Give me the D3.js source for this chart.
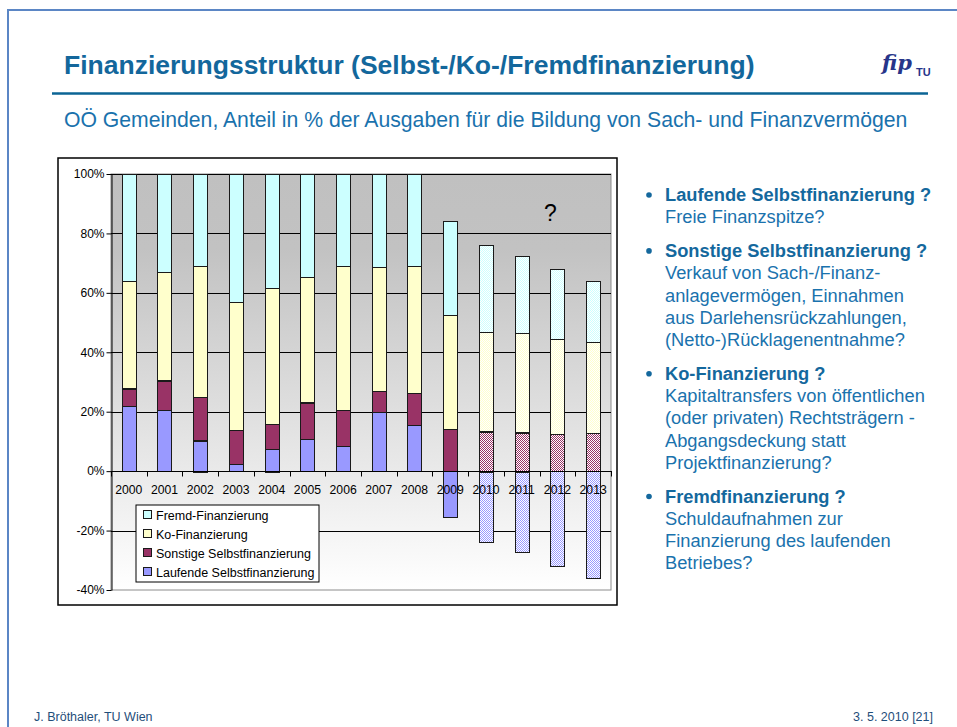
<!DOCTYPE html>
<html>
<head>
<meta charset="utf-8">
<script src="https://cdn.jsdelivr.net/npm/d3@7"></script>
<style>
  html, body { margin: 0; padding: 0; background: #fff; }
  svg { display: block; font-family: "Liberation Sans", Arial, sans-serif; }
</style>
</head>
<body>
<svg id="slide" width="957" height="727"></svg>
<script>
// chart data
const years = ["2000","2001","2002","2003","2004","2005","2006","2007","2008","2009","2010","2011","2012","2013"];
const laufende = [22.1, 20.6, 10.3, 2.6, 7.6, 11.1, 8.4, 19.8, 15.4, -15.5, -23.8, -27.3, -32.0, -35.9];
const sonstige = [5.7, 9.9, 14.5, 11.3, 8.3, 12.0, 12.2, 7.1, 10.9, 14.3, 13.3, 13.0, 12.7, 12.7];
const koFin = [36.1, 36.4, 44.1, 43.1, 45.7, 42.2, 48.5, 41.7, 42.6, 38.4, 33.7, 33.4, 31.9, 30.7];
const fremd = [36.1, 33.1, 31.1, 43.0, 38.4, 34.7, 30.9, 31.4, 31.1, 31.6, 29.2, 26.0, 23.4, 20.5];
const projectedYears = ["2010","2011","2012","2013"];
const yTicks = [-40, -20, 0, 20, 40, 60, 80, 100];

const seriesKeys = ["laufende", "sonstige", "ko", "fremd"];
const seriesNames = {
  fremd: "Fremd-Finanzierung",
  ko: "Ko-Finanzierung",
  sonstige: "Sonstige Selbstfinanzierung",
  laufende: "Laufende Selbstfinanzierung"
};
const seriesColors = { laufende: "#9999ff", sonstige: "#993366", ko: "#ffffcc", fremd: "#ccffff" };

const bullets = [
  { head: "Laufende Selbstfinanzierung ?", lines: ["Freie Finanzspitze?"] },
  { head: "Sonstige Selbstfinanzierung ?", lines: ["Verkauf von Sach-/Finanz-", "anlagevermögen, Einnahmen", "aus Darlehensrückzahlungen,", "(Netto-)Rücklagenentnahme?"] },
  { head: "Ko-Finanzierung ?", lines: ["Kapitaltransfers von öffentlichen", "(oder privaten) Rechtsträgern -", "Abgangsdeckung statt", "Projektfinanzierung?"] },
  { head: "Fremdfinanzierung ?", lines: ["Schuldaufnahmen zur", "Finanzierung des laufenden", "Betriebes?"] }
];

const svg = d3.select("#slide");
const defs = svg.append("defs");

// slide frame
svg.append("path")
  .attr("d", "M8,727 V10 H957")
  .attr("fill", "none")
  .attr("stroke", "#5b86c5")
  .attr("stroke-width", 2);

// title + rule
svg.append("text")
  .attr("x", 64).attr("y", 74)
  .style("font-size", "26.5px").style("font-weight", "bold")
  .style("fill", "#13679c")
  .text("Finanzierungsstruktur (Selbst-/Ko-/Fremdfinanzierung)");

svg.append("line")
  .attr("x1", 52).attr("x2", 928).attr("y1", 93.5).attr("y2", 93.5)
  .attr("stroke", "#0b6495").attr("stroke-width", 2.5);

svg.append("text")
  .attr("x", 64).attr("y", 127)
  .style("font-size", "21.2px")
  .style("fill", "#1a72ad")
  .text("OÖ Gemeinden, Anteil in % der Ausgaben für die Bildung von Sach- und Finanzvermögen");

// logo (rough)
const logo = svg.append("g").attr("transform", "translate(882,70)");
logo.append("text")
  .style("font-family", "'DejaVu Serif', serif").style("font-style", "italic").style("font-weight", "bold")
  .style("font-size", "21px").style("fill", "#27358a")
  .attr("x", 0).attr("y", 0).text("fip");
logo.append("text")
  .style("font-size", "11px").style("font-weight", "bold").style("fill", "#27358a")
  .attr("x", 34).attr("y", 6).text("TU");

// chart box
svg.append("rect")
  .attr("x", 58).attr("y", 158).attr("width", 559).attr("height", 447)
  .attr("fill", "#fff").attr("stroke", "#000").attr("stroke-width", 1.5);

const plot = { left: 111, right: 611, top: 174, bottom: 590 };

const x = d3.scaleBand()
  .domain(years)
  .range([plot.left, plot.right])
  .paddingInner(0.6)
  .paddingOuter(0.3);

const y = d3.scaleLinear()
  .domain([-40, 100])
  .range([plot.bottom, plot.top]);

// plot background gradient
const grad = defs.append("linearGradient")
  .attr("id", "bg").attr("x1", 0).attr("y1", 0).attr("x2", 0).attr("y2", 1);
grad.append("stop").attr("offset", "0").attr("stop-color", "#c0c0c0");
grad.append("stop").attr("offset", "0.18").attr("stop-color", "#c2c2c2");
grad.append("stop").attr("offset", "1").attr("stop-color", "#ffffff");

svg.append("rect")
  .attr("x", plot.left).attr("y", plot.top)
  .attr("width", plot.right - plot.left).attr("height", plot.bottom - plot.top)
  .attr("fill", "url(#bg)")
  .attr("stroke", "#8c8c8c").attr("stroke-width", 1);

// grid lines
svg.append("g")
  .selectAll("line")
  .data(yTicks.filter(d => d !== 0 && d !== -40))
  .join("line")
  .attr("x1", plot.left).attr("x2", plot.right)
  .attr("y1", d => Math.round(y(d)) + 0.5).attr("y2", d => Math.round(y(d)) + 0.5)
  .attr("stroke", "#000").attr("stroke-width", 1);

// dotted patterns for the projected years
seriesKeys.forEach(k => {
  const p = defs.append("pattern")
    .attr("id", "pat-" + k)
    .attr("patternUnits", "userSpaceOnUse")
    .attr("width", 2).attr("height", 2);
  p.append("rect").attr("width", 2).attr("height", 2).attr("fill", "#fff");
  p.append("rect").attr("x", 0).attr("y", 0).attr("width", 1).attr("height", 1).attr("fill", seriesColors[k]);
  p.append("rect").attr("x", 1).attr("y", 1).attr("width", 1).attr("height", 1).attr("fill", seriesColors[k]);
});

// stacked bars
const rows = years.map((yr, i) => ({
  year: yr,
  laufende: laufende[i],
  sonstige: sonstige[i],
  ko: koFin[i],
  fremd: fremd[i]
}));

const stacked = d3.stack()
  .keys(seriesKeys)
  .offset(d3.stackOffsetDiverging)(rows);

svg.append("g")
  .selectAll("g")
  .data(stacked)
  .join("g")
  .each(function (s) {
    d3.select(this).selectAll("rect")
      .data(s)
      .join("rect")
      .attr("x", d => Math.round(x(d.data.year)) + 0.5)
      .attr("y", d => Math.round(y(Math.max(d[0], d[1]))) + 0.5)
      .attr("width", Math.round(x.bandwidth()))
      .attr("height", d => Math.round(Math.abs(y(d[0]) - y(d[1]))))
      .attr("fill", d => projectedYears.includes(d.data.year) ? "url(#pat-" + s.key + ")" : seriesColors[s.key])
      .attr("stroke", "#1a1a1a")
      .attr("stroke-width", 1);
  });

// y axis
const yAxis = svg.append("g")
  .attr("transform", `translate(${plot.left + 0.5},0)`)
  .call(d3.axisLeft(y).tickValues(yTicks).tickSize(5).tickSizeOuter(0).tickFormat(d => d + "%"));
yAxis.select(".domain").attr("stroke", "#000");
yAxis.selectAll(".tick line").attr("stroke", "#000");
yAxis.selectAll("text")
  .attr("x", -7)
  .style("font-family", "'Liberation Sans', Arial, sans-serif")
  .style("font-size", "12px").style("fill", "#000");

// x axis on zero line, ticks at category boundaries
const zeroY = Math.round(y(0)) + 0.5;
svg.append("line")
  .attr("x1", plot.left).attr("x2", plot.right + 1)
  .attr("y1", zeroY).attr("y2", zeroY)
  .attr("stroke", "#000");

const boundaries = years.map(yr => x(yr) - x.step() * x.paddingOuter()).concat([plot.right]);
svg.append("g")
  .selectAll("line")
  .data(boundaries)
  .join("line")
  .attr("x1", d => Math.round(d) + 0.5).attr("x2", d => Math.round(d) + 0.5)
  .attr("y1", zeroY).attr("y2", zeroY + 5)
  .attr("stroke", "#000");

svg.append("g")
  .selectAll("text")
  .data(years)
  .join("text")
  .attr("x", d => x(d) + x.bandwidth() / 2)
  .attr("y", zeroY + 22)
  .attr("text-anchor", "middle")
  .style("font-size", "12.2px").style("fill", "#000")
  .text(d => d);

// question mark over the projection
svg.append("text")
  .attr("x", x("2012")).attr("y", 221)
  .attr("text-anchor", "middle")
  .style("font-size", "23px").style("fill", "#000")
  .text("?");

// legend
const legendItems = ["fremd", "ko", "sonstige", "laufende"];
const legend = svg.append("g").attr("transform", "translate(136,505)");
legend.append("rect")
  .attr("width", 183).attr("height", 77)
  .attr("fill", "#fff").attr("stroke", "#000").attr("stroke-width", 1);
const li = legend.selectAll("g.item")
  .data(legendItems)
  .join("g").attr("class", "item")
  .attr("transform", (d, i) => `translate(7,${10 + i * 19})`);
li.append("rect")
  .attr("x", 0.5).attr("y", -4.5).attr("width", 8).attr("height", 8)
  .attr("fill", d => seriesColors[d]).attr("stroke", "#1a1a1a");
li.append("text")
  .attr("x", 13).attr("y", 4.5)
  .style("font-size", "12.5px").style("fill", "#000")
  .text(d => seriesNames[d]);

// bullet text on the right
const bx = 665;
let by = 201;
const bullet = svg.append("g").style("font-size", "18.3px");
bullets.forEach(b => {
  bullet.append("circle").attr("cx", 649).attr("cy", by - 6).attr("r", 2.8).attr("fill", "#14689d");
  bullet.append("text").attr("x", bx).attr("y", by)
    .style("font-weight", "bold").style("fill", "#14689d").text(b.head);
  b.lines.forEach(l => {
    by += 22.3;
    bullet.append("text").attr("x", bx).attr("y", by).style("fill", "#1a72ad").text(l);
  });
  by += 33.6;
});

// footer
svg.append("text")
  .attr("x", 34).attr("y", 721)
  .style("font-size", "12.5px").style("fill", "#1f4e7a")
  .text("J. Bröthaler, TU Wien");
svg.append("text")
  .attr("x", 933).attr("y", 721).attr("text-anchor", "end")
  .style("font-size", "12.5px").style("fill", "#1f4e7a")
  .text("3. 5. 2010  [21]");
</script>
</body>
</html>
